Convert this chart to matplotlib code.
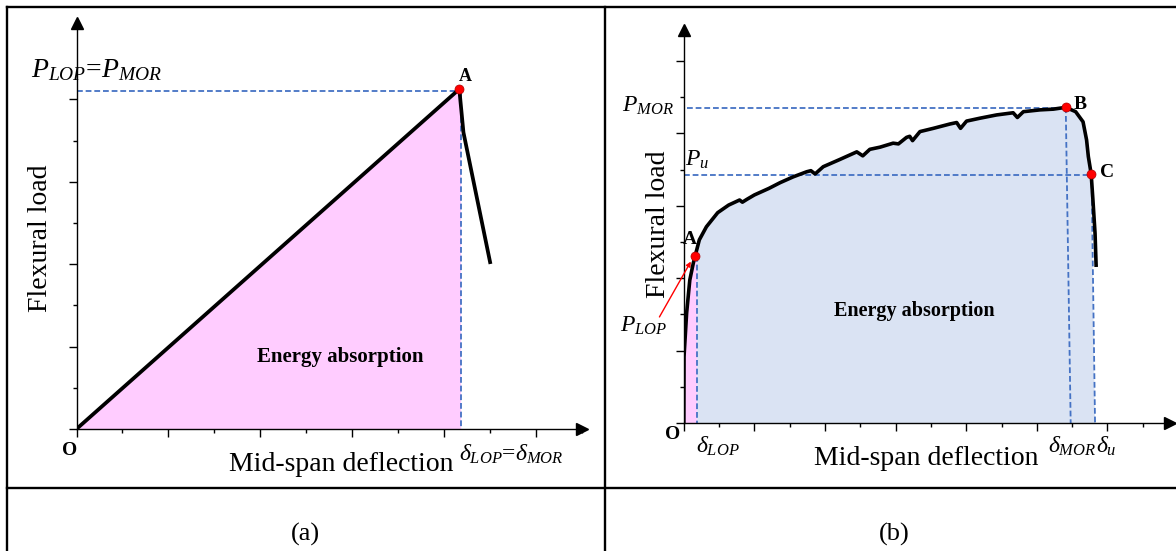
import matplotlib
matplotlib.use("Agg")
import matplotlib.pyplot as plt
from matplotlib.lines import Line2D
import numpy as np

plt.rcParams['font.family'] = 'Liberation Serif'
plt.rcParams['mathtext.fontset'] = 'custom'
plt.rcParams['mathtext.rm'] = 'Liberation Serif'
plt.rcParams['mathtext.it'] = 'Liberation Serif:italic'
plt.rcParams['mathtext.bf'] = 'Liberation Serif:bold'

# (a) brittle response: linear up to peak A, then sudden drop
defl_a = [0.0, 8.33, 8.42, 9.00]
load_a = [0.0, 8.25, 7.20, 4.05]
peak_a = (8.33, 8.25)
p_lop_a = 8.20
d_lop_a = 8.37

# (b) deflection-hardening response
defl_b = [0.00, 0.006, 0.08, 0.17, 0.27, 0.32, 0.44, 0.64, 0.96, 1.27, 1.58, 1.66,
          1.79, 2.00, 2.41, 2.73, 3.10, 3.48, 3.60, 3.72, 3.95, 4.42, 4.90, 5.07,
          5.27, 5.56, 5.93, 6.08, 6.31, 6.40, 6.48, 6.69, 7.07, 7.54, 7.73, 7.84,
          8.01, 8.39, 8.86, 9.33, 9.45, 9.62, 10.09, 10.47, 10.82, 11.10, 11.31,
          11.41, 11.46, 11.54, 11.59, 11.65, 11.68]
load_b = [0.00, 1.83, 3.04, 3.95, 4.42, 4.61, 5.06, 5.42, 5.81, 6.02, 6.16, 6.10,
          6.18, 6.30, 6.48, 6.64, 6.80, 6.94, 6.97, 6.88, 7.08, 7.28, 7.49, 7.38,
          7.56, 7.62, 7.73, 7.71, 7.89, 7.92, 7.80, 8.05, 8.14, 8.26, 8.30, 8.14,
          8.34, 8.42, 8.51, 8.57, 8.44, 8.60, 8.65, 8.67, 8.72, 8.60, 8.32,
          7.82, 7.36, 6.88, 6.16, 5.24, 4.36]
pt_A = (0.32, 4.61)
pt_B = (10.82, 8.72)
pt_C = (11.54, 6.88)
p_mor_b = 8.70
p_u_b = 6.85
d_lop_b = 0.38
d_mor_b = (10.82, 10.96)   # top, bottom (line leans slightly)
d_u_b = (11.55, 11.65)

W, H = 1176, 551
fig = plt.figure(figsize=(W / 100, H / 100), dpi=100)

BLUE = '#4472C4'
PINK = '#FFCCFF'
LIGHT = '#DAE3F3'
DASH = (0, (3.2, 1.6))
DLW = 1.3


def panel(ox, oy, tipx, tipy, ux, uy, xmaj, ymaj):
    # ox, oy: origin in pixels; tipx, tipy: arrow tips; ux, uy: pixels per unit
    head = 5.5
    x1, y1 = tipx - head, tipy + head
    ax = fig.add_axes([ox / W, 1 - oy / H, (x1 - ox) / W, (oy - y1) / H])
    ax.set_xlim(0, (x1 - ox) / ux)
    ax.set_ylim(0, (oy - y1) / uy)
    ax.patch.set_visible(False)
    for s in ['top', 'right']:
        ax.spines[s].set_visible(False)
    for s in ['left', 'bottom']:
        ax.spines[s].set_linewidth(1.0)
    ax.set_xticks(np.arange(0, xmaj + 1, 2))
    ax.set_xticks(np.arange(1, xmaj + 2, 2), minor=True)
    ax.set_yticks(np.arange(0, ymaj + 1, 2))
    ax.set_yticks(np.arange(1, ymaj, 2), minor=True)
    ax.tick_params(which='major', length=5.5, width=1.0, direction='out')
    ax.tick_params(which='minor', length=2.6, width=1.0, direction='out')
    ax.tick_params(which='both', labelbottom=False, labelleft=False)
    ax.plot(1, 0, '>', ms=8, color='k', transform=ax.transAxes, clip_on=False)
    ax.plot(0, 1, '^', ms=8, color='k', transform=ax.transAxes, clip_on=False)
    return ax


def red_dot(ax, x, y):
    ax.plot(x, y, 'o', ms=6.5, color='#FF0000', mec='#B00000', mew=0.5,
            zorder=6, clip_on=False)


# ---------------- panel (a) ----------------
axa = panel(76.5, 429, 587.5, 17, 46.4, 41.2, 10, 8)

axa.fill([0, peak_a[0], d_lop_a, d_lop_a], [0, peak_a[1], p_lop_a, 0],
         color=PINK, lw=0, zorder=1)
axa.plot([0, peak_a[0]], [p_lop_a, p_lop_a], color=BLUE, lw=DLW, ls=DASH, zorder=2)
axa.plot([d_lop_a, d_lop_a], [p_lop_a, 0], color=BLUE, lw=DLW, ls=DASH, zorder=2)
axa.plot(defl_a, load_a, color='k', lw=2.7, solid_joinstyle='round', zorder=4)
red_dot(axa, *peak_a)

axa.text(8.47, 8.55, 'A', fontsize=13, fontweight='bold', ha='center', va='center')
axa.text(-0.98, 8.54, r'$P_{LOP}$=$P_{MOR}$', fontsize=20, ha='left',
         va='baseline')
axa.text(-0.79, 4.64, 'Flexural load', fontsize=20, rotation=90,
         ha='center', va='center')
axa.text(-0.14, -0.51, 'O', fontsize=14, fontweight='bold', ha='center',
         va='center')
axa.text(5.77, -1.03, 'Mid-span deflection', fontsize=20, ha='center',
         va='baseline')
axa.text(8.33, -0.76, r'$\delta_{LOP}$=$\delta_{MOR}$', fontsize=17,
         ha='left', va='baseline')
axa.text(5.73, 1.75, 'Energy absorption', fontsize=15, fontweight='bold',
         ha='center', va='center')

# ---------------- panel (b) ----------------
axb = panel(683.8, 423, 1175.5, 24, 35.3, 36.2, 12, 10)

xb = np.array(defl_b)
yb = np.array(load_b)
iC = int(np.argmin(np.abs(xb - pt_C[0])))
y_at_lop = np.interp(d_lop_b, xb[:iC + 1], yb[:iC + 1])

pink_x = np.r_[xb[xb < d_lop_b], d_lop_b, d_lop_b]
pink_y = np.r_[yb[xb < d_lop_b], y_at_lop, 0]
axb.fill(pink_x, pink_y, color=PINK, lw=0, zorder=1)

sel = (xb > d_lop_b) & (np.arange(len(xb)) <= iC)
blue_x = np.r_[d_lop_b, d_lop_b, xb[sel], d_u_b[1]]
blue_y = np.r_[0, y_at_lop, yb[sel], 0]
axb.fill(blue_x, blue_y, color=LIGHT, lw=0, zorder=1)

axb.plot([0.08, pt_B[0]], [p_mor_b, p_mor_b], color=BLUE, lw=DLW, ls=DASH, zorder=2)
axb.plot([0, pt_C[0]], [p_u_b, p_u_b], color=BLUE, lw=DLW, ls=DASH, zorder=2)
axb.plot([d_lop_b, d_lop_b], [pt_A[1], 0], color=BLUE, lw=DLW, ls=DASH, zorder=2)
axb.plot(d_mor_b, [pt_B[1], 0], color=BLUE, lw=DLW, ls=DASH, zorder=2)
axb.plot(d_u_b, [pt_C[1], 0], color=BLUE, lw=DLW, ls=DASH, zorder=2)

axb.plot(xb, yb, color='k', lw=2.6, solid_joinstyle='round', zorder=4)
for p in (pt_A, pt_B, pt_C):
    red_dot(axb, *p)

axb.text(0.18, 5.06, 'A', fontsize=14, fontweight='bold', ha='center', va='center')
axb.text(11.22, 8.81, 'B', fontsize=14, fontweight='bold', ha='center', va='center')
axb.text(11.99, 6.93, 'C', fontsize=14, fontweight='bold', ha='center', va='center')
axb.text(-1.75, 8.59, r'$P_{MOR}$', fontsize=17, ha='left', va='baseline')
axb.text(0.03, 7.11, r'$P_{u}$', fontsize=17, ha='left', va='baseline')
axb.text(-1.81, 2.52, r'$P_{LOP}$', fontsize=17, ha='left', va='baseline')
axb.annotate('', xy=(0.20, 4.46), xytext=(-0.69, 2.93),
             arrowprops=dict(arrowstyle='-|>', color='red', lw=1.0,
                             mutation_scale=7, shrinkA=0, shrinkB=0),
             annotation_clip=False)
axb.text(-0.73, 5.50, 'Flexural load', fontsize=20, rotation=90,
         ha='center', va='center')
axb.text(-0.33, -0.33, 'O', fontsize=14, fontweight='bold', ha='center',
         va='center')
axb.text(6.88, -1.16, 'Mid-span deflection', fontsize=20, ha='center',
         va='baseline')
axb.text(0.35, -0.83, r'$\delta_{LOP}$', fontsize=17, ha='left', va='baseline')
axb.text(10.32, -0.83, r'$\delta_{MOR}$', fontsize=17, ha='left', va='baseline')
axb.text(11.68, -0.83, r'$\delta_{u}$', fontsize=17, ha='left', va='baseline')
axb.text(6.53, 3.09, 'Energy absorption', fontsize=14.5, fontweight='bold',
         ha='center', va='center')

# ---------------- table frame and captions ----------------
def fig_line(xs, ys):
    fig.add_artist(Line2D([x / W for x in xs], [1 - y / H for y in ys],
                          transform=fig.transFigure, color='k', lw=1.7))

fig_line([7, 7], [7, H])
fig_line([7, W], [7, 7])
fig_line([604.5, 604.5], [7, H])
fig_line([7, W], [487.5, 487.5])

fig.text(305 / W, 1 - 534 / H, '(a)', fontsize=19, ha='center', va='center')
fig.text(894 / W, 1 - 534 / H, '(b)', fontsize=19, ha='center', va='center')

fig.savefig('out.png', dpi=100)
